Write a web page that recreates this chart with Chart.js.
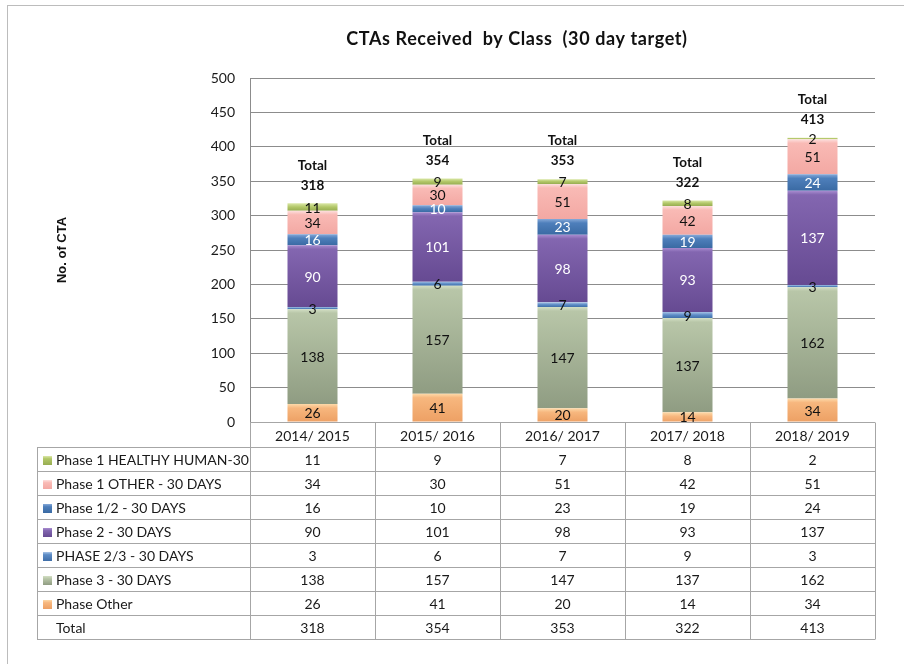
<!DOCTYPE html>
<html><head><meta charset="utf-8">
<script src="https://cdn.jsdelivr.net/npm/chart.js@4"></script>
<style>
html,body{margin:0;padding:0;background:#fff;overflow:hidden}
#wrap{position:relative;width:904px;height:664px}
#frame{position:absolute;left:7px;top:5px;width:1000px;height:1000px;border:1px solid #bcbcbc;box-sizing:border-box}
canvas{position:absolute;left:0;top:0}
</style></head><body>
<div id="wrap"><div id="frame"></div><canvas id="c" width="904" height="664"></canvas></div>
<script>
const categories = ['2014/ 2015','2015/ 2016','2016/ 2017','2017/ 2018','2018/ 2019'];
const phaseOther    = [26, 41, 20, 14, 34];
const phase3        = [138, 157, 147, 137, 162];
const phase23       = [3, 6, 7, 9, 3];
const phase2        = [90, 101, 98, 93, 137];
const phase12       = [16, 10, 23, 19, 24];
const phase1Other   = [34, 30, 51, 42, 51];
const phase1Healthy = [11, 9, 7, 8, 2];
const totals        = [318, 354, 353, 322, 413];
const seriesNames = ['Phase Other','Phase 3 - 30 DAYS','PHASE 2/3 - 30 DAYS','Phase 2 - 30 DAYS','Phase 1/2 - 30 DAYS','Phase 1 OTHER - 30 DAYS','Phase 1 HEALTHY HUMAN-30'];
const seriesData = [phaseOther, phase3, phase23, phase2, phase12, phase1Other, phase1Healthy];
const titleText = 'CTAs Received  by Class  (30 day target)';
const yTitleText = 'No. of CTA';
const yMin = 0, yMax = 500, yStep = 50;

const palette = [
  {light:'#fdd9a8', mid:'#f7b77e', dark:'#eda064', text:'#111'},
  {light:'#d3dfc4', mid:'#b8c6a8', dark:'#8f9c82', text:'#111'},
  {light:'#a8c4e6', mid:'#5d8cc6', dark:'#3f6ea8', text:'#111'},
  {light:'#a88cd0', mid:'#8366b0', dark:'#664a92', text:'#fff'},
  {light:'#86a9d8', mid:'#4e7fbb', dark:'#3a6aa3', text:'#fff'},
  {light:'#fde0de', mid:'#f9bab5', dark:'#f3a8a3', text:'#111'},
  {light:'#dbe8a8', mid:'#b2c768', dark:'#97ad52', text:'#111'}
];
const FONT = 'Lato, "Open Sans", sans-serif';

function makeGrad(ctx, y0, y1, p){
  const g = ctx.createLinearGradient(0, y0, 0, y1);
  g.addColorStop(0, p.light);
  g.addColorStop(Math.min(0.5, 4/Math.max(1,(y1-y0))), p.mid);
  g.addColorStop(1, p.dark);
  return g;
}

const datasets = seriesData.map((d, i) => ({
  label: seriesNames[i],
  data: d,
  backgroundColor: (c) => {
    const chart = c.chart;
    const p = palette[i];
    if (!chart.chartArea || c.type !== 'data') return p.mid;
    const idx = c.dataIndex;
    let lo = 0;
    for (let k = 0; k < i; k++) lo += seriesData[k][idx];
    const hi = lo + seriesData[i][idx];
    const y = chart.scales.y;
    return makeGrad(chart.ctx, y.getPixelForValue(hi), y.getPixelForValue(lo), p);
  },
  borderWidth: 0,
  categoryPercentage: 1,
  barPercentage: 0.4
}));

const titles = {
  id: 'titles',
  afterDraw(chart){
    const ctx = chart.ctx;
    ctx.save();
    ctx.fillStyle = '#111';
    ctx.font = 'bold 18px ' + FONT;
    if ('letterSpacing' in ctx) ctx.letterSpacing = '0.6px';
    ctx.textAlign = 'center';
    ctx.textBaseline = 'alphabetic';
    ctx.fillText(titleText, 517, 45);
    if ('letterSpacing' in ctx) ctx.letterSpacing = '0px';
    ctx.translate(62, (chart.chartArea.top + chart.chartArea.bottom)/2);
    ctx.rotate(-Math.PI/2);
    ctx.font = 'bold 13px "Liberation Sans", Arial, sans-serif';
    ctx.textBaseline = 'middle';
    ctx.fillText(yTitleText, 0, 0);
    ctx.restore();
  }
};

const segLabels = {
  id: 'segLabels',
  afterDatasetsDraw(chart){
    const ctx = chart.ctx;
    ctx.save();
    ctx.textAlign = 'center';
    ctx.textBaseline = 'middle';
    ctx.font = '14px ' + FONT;
    chart.data.datasets.forEach((ds, di) => {
      const meta = chart.getDatasetMeta(di);
      meta.data.forEach((el, j) => {
        ctx.fillStyle = palette[di].text;
        ctx.fillText(String(ds.data[j]), el.x, (el.y + el.base)/2 + 1);
      });
    });
    const last = chart.getDatasetMeta(chart.data.datasets.length - 1);
    ctx.fillStyle = '#111';
    ctx.font = 'bold 13.5px ' + FONT;
    last.data.forEach((el, j) => {
      ctx.fillText('Total', el.x, el.y - 38);
      ctx.fillText(String(totals[j]), el.x, el.y - 18);
    });
    ctx.restore();
  }
};

const dataTable = {
  id: 'dataTable',
  afterDraw(chart){
    const ctx = chart.ctx, ca = chart.chartArea, xs = chart.scales.x;
    const n = categories.length;
    const colW = (ca.right - ca.left) / n;
    const tableLeft = 37;
    const top = Math.round(ca.bottom) + 0.5;
    const headerH = 25, rowH = 24;
    const rows = [];
    for (let i = seriesData.length - 1; i >= 0; i--) rows.push({name: seriesNames[i], data: seriesData[i], p: palette[i]});
    rows.push({name: 'Total', data: totals, p: null});
    const bottom = top + headerH + rows.length * rowH;
    ctx.save();
    ctx.strokeStyle = '#a6a6a6';
    ctx.lineWidth = 1;
    ctx.beginPath();
    ctx.moveTo(ca.left, top); ctx.lineTo(ca.right, top);
    for (let r = 0; r <= rows.length; r++) {
      const y = top + headerH + r * rowH;
      ctx.moveTo(tableLeft, y); ctx.lineTo(ca.right, y);
    }
    for (let c = 0; c <= n; c++) {
      const x = Math.round(ca.left + c * colW) + 0.5;
      ctx.moveTo(x, top); ctx.lineTo(x, bottom);
    }
    ctx.moveTo(tableLeft + 0.5, top + headerH); ctx.lineTo(tableLeft + 0.5, bottom);
    ctx.stroke();

    ctx.fillStyle = '#1a1a1a';
    ctx.font = '14px ' + FONT;
    ctx.textBaseline = 'middle';
    ctx.textAlign = 'center';
    categories.forEach((cat, j) => {
      ctx.fillText(cat, xs.getPixelForValue(j), top + headerH/2 + 1);
    });
    rows.forEach((row, r) => {
      const yc = top + headerH + r * rowH + rowH/2 + 1;
      ctx.textAlign = 'center';
      ctx.fillStyle = '#1a1a1a';
      row.data.forEach((v, j) => ctx.fillText(String(v), xs.getPixelForValue(j), yc));
      if (row.p) {
        const my = Math.round(yc - 5);
        const g = ctx.createLinearGradient(0, my, 0, my + 9);
        g.addColorStop(0, row.p.light); g.addColorStop(0.3, row.p.mid); g.addColorStop(1, row.p.dark);
        ctx.fillStyle = g;
        ctx.fillRect(43, my, 9, 9);
        ctx.fillStyle = '#1a1a1a';
        ctx.textAlign = 'left';
        ctx.fillText(row.name, 56, yc);
      } else {
        ctx.textAlign = 'left';
        ctx.fillText(row.name, 56, yc);
      }
    });
    ctx.restore();
  }
};

new Chart(document.getElementById('c'), {
  type: 'bar',
  data: { labels: categories, datasets },
  options: {
    responsive: false,
    animation: false,
    devicePixelRatio: 1,
    layout: { padding: { left: 0, right: 29, top: 78, bottom: 242 } },
    plugins: {
      legend: { display: false },
      tooltip: { enabled: false },
      title: { display: false }
    },
    scales: {
      x: { display: false, stacked: true, offset: true },
      y: {
        stacked: true,
        min: yMin, max: yMax,
        afterFit(s){ s.width = 250; },
        ticks: { stepSize: yStep, color: '#1a1a1a', padding: 15, font: { family: FONT, size: 14 } },
        grid: { color: '#8c8c8c', drawTicks: false },
        border: { display: true, color: '#8c8c8c' }
      }
    }
  },
  plugins: [segLabels, dataTable, titles]
});
</script>
</body></html>
